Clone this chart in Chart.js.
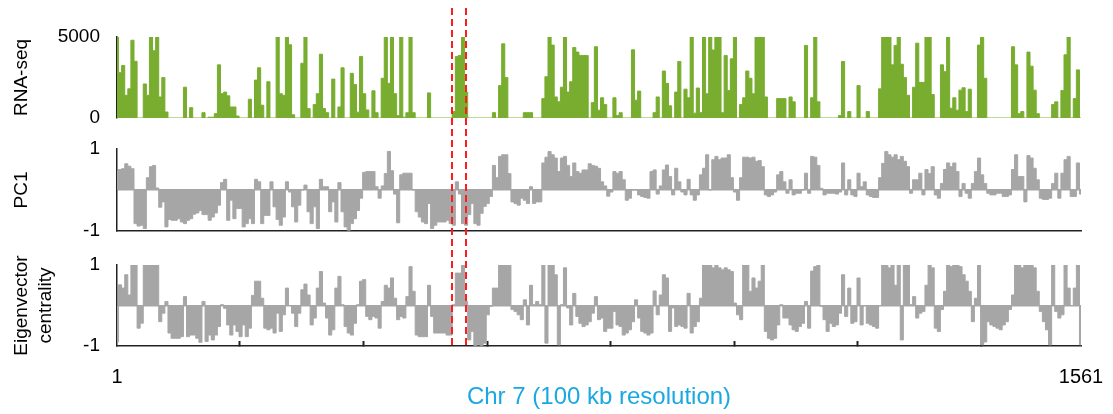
<!DOCTYPE html>
<html>
<head>
<meta charset="utf-8">
<script src="https://cdn.jsdelivr.net/npm/chart.js@4.4.1/dist/chart.umd.min.js"></script>
<style>
  body { margin: 0; background: #fff; }
  #wrap { position: relative; width: 1113px; height: 414px; }
  .panel { position: absolute; left: 0; width: 1113px; }
</style>
</head>
<body>
<div id="wrap">
  <div class="panel" style="top:0;height:130px"><canvas id="rna"></canvas></div>
  <div class="panel" style="top:130px;height:115px"><canvas id="pc1"></canvas></div>
  <div class="panel" style="top:245px;height:169px"><canvas id="eig"></canvas></div>
</div>
<script>
// one value per 5 bins (100 kb bins)
const binSize = 5;

const rnaSeq = [
  5000, 2800, 3240, 1400, 1800, 4800, 3500, 0, 0, 2100,
  1400, 5000, 4150, 5000, 1300, 2500, 370, 0, 0, 0,
  0, 0, 1900, 0, 640, 0, 0, 0, 330, 0,
  50, 50, 270, 3280, 1500, 1600, 1370, 680, 680, 120,
  0, 0, 0, 1160, 0, 2340, 3100, 790, 0, 2240,
  0, 0, 5000, 1500, 1400, 5000, 4520, 200, 0, 0,
  3380, 5000, 580, 0, 830, 1500, 3940, 580, 330, 0,
  2400, 0, 680, 3100, 0, 0, 2760, 2070, 360, 3800,
  1500, 500, 0, 1680, 330, 0, 2450, 5000, 2140, 5000,
  1500, 150, 5000, 50, 330, 5000, 330, 0, 0, 0,
  0, 1550, 0, 0, 0, 0, 0, 0, 0, 400,
  3800, 3860, 5000, 1600, 0, 0, 0, 0, 0, 0,
  0, 0, 330, 0, 2000, 4580, 2500, 0, 0, 0,
  0, 0, 330, 330, 330, 0, 0, 0, 1200, 2550,
  5000, 4500, 1300, 1000, 1900, 5000, 1600, 2240, 4350, 4070,
  3860, 3860, 3860, 0, 950, 4400, 480, 1250, 830, 0,
  0, 1250, 150, 330, 0, 0, 0, 4210, 1100, 1660,
  0, 0, 0, 0, 330, 1300, 0, 2900, 2140, 750,
  0, 1600, 3490, 0, 1780, 1250, 5000, 300, 1850, 330,
  5000, 1500, 5000, 4200, 5000, 5000, 330, 3860, 1700, 3650,
  5000, 0, 830, 1250, 2900, 2450, 1500, 5000, 5000, 5000,
  1300, 0, 0, 0, 1200, 1200, 1200, 0, 1300, 1000,
  0, 0, 0, 4480, 0, 1250, 5000, 1000, 0, 0,
  0, 0, 0, 0, 150, 3490, 0, 400, 0, 0,
  2000, 0, 0, 400, 0, 0, 0, 1800, 5000, 5000,
  5000, 3280, 4480, 5000, 3320, 2500, 1400, 0, 1900, 4620,
  2200, 2200, 5000, 5000, 1450, 0, 0, 3280, 2860, 5000,
  600, 1250, 480, 1720, 1870, 400, 1780, 0, 0, 4500,
  5000, 2450, 0, 0, 0, 0, 0, 0, 0, 0,
  4400, 3280, 270, 400, 0, 4070, 3200, 1720, 270, 0,
  0, 0, 0, 830, 1000, 0, 1700, 3900, 5000, 0,
  1200, 2970, 0
];

const pc1 = [
  0.45, 0.5, 0.52, 0.64, 0.58, 0.52, -0.82, -0.88, -0.86, -0.94,
  0.3, 0.57, 0.6, 0.05, -0.42, -0.29, -0.9, -0.72, -0.74, -0.74,
  -0.7, -0.78, -0.82, -0.74, -0.7, -0.59, -0.56, -0.5, -0.6, -0.6,
  -0.74, -0.66, -0.56, -0.37, 0.18, 0.26, -0.74, -0.25, -0.7, -0.45,
  -0.45, -0.9, -0.82, -0.7, -0.82, 0.26, 0.2, -0.82, -0.62, -0.62,
  0.2, -0.41, -0.72, -0.86, -0.66, 0.2, -0.05, -0.41, -0.78, -0.37,
  0, 0.12, -0.53, -0.82, -0.41, -0.94, 0.26, 0.08, 0.08, -0.53,
  -0.29, -0.78, 0.18, -0.53, -0.9, -0.98, -0.82, -0.7, -0.5, -0.2,
  0.43, 0.45, 0.45, 0.45, 0.08, -0.2, 0.1, 0.4, 0.94, 0.47,
  -0.1, -0.8, 0.37, 0.41, 0.41, 0.41, 0, -0.53, -0.66, -0.78,
  -0.82, -0.33, -0.94, -0.86, -0.78, -0.78, -0.78, -0.74, -0.82, -0.86,
  0.2, -0.1, -0.82, -0.86, -0.6, -0.33, -0.82, -0.86, -0.57, -0.4,
  -0.33, -0.16, 0.6, 0.3, 0.82, 0.86, 0.86, 0.4, -0.29, -0.33,
  -0.37, -0.2, -0.25, -0.33, 0.08, -0.33, -0.29, -0.29, 0.66, 0.8,
  0.94, 0.86, 0.78, 0.45, 0.78, 0.82, 0.6, 0.33, 0.66, 0.45,
  0.41, 0.49, 0.49, 0.64, 0.6, 0.58, 0.53, 0.2, 0.1, -0.15,
  -0.05, 0.45, 0.41, 0.45, 0.25, -0.25, -0.2, 0, 0, -0.12,
  -0.16, -0.18, -0.2, 0.45, 0.49, -0.1, 0.1, 0.49, 0.61, 0.33,
  -0.12, 0.53, 0.2, -0.05, -0.12, 0.26, -0.12, -0.25, -0.12, 0.37,
  0.53, 0.86, 0, 0.74, 0.82, 0.74, 0.78, 0.78, 0.86, 0.3,
  -0.05, -0.25, 0.3, 0.8, 0.8, 0.78, 0.8, 0.7, 0.72, 0.57,
  -0.12, -0.16, -0.12, -0.05, 0.37, 0.45, 0.2, -0.08, 0.25, -0.12,
  -0.08, -0.08, 0, 0.41, -0.08, 0.82, 0.8, 0.6, 0.04, -0.12,
  -0.08, -0.08, -0.08, -0.1, -0.05, 0.66, -0.12, 0.25, -0.12, -0.16,
  0.41, 0.08, 0.2, -0.12, -0.16, -0.18, -0.18, 0.3, 0.65, 0.94,
  0.86, 0.8, 0.86, 0.74, 0.82, 0.7, 0.57, -0.08, 0.25, 0.25,
  0.41, -0.12, 0.5, 0.4, 0.57, -0.12, -0.2, 0.16, 0.5, 0.66,
  0.57, 0.66, 0.45, -0.16, 0.16, -0.08, -0.2, 0.16, 0.45, 0.78,
  0.37, 0.16, -0.08, -0.12, -0.12, -0.08, -0.08, -0.16, -0.16, -0.12,
  0.5, 0.86, 0.33, 0.33, -0.29, 0.84, 0.78, 0.53, 0.25, -0.2,
  -0.23, -0.23, -0.2, 0.16, 0.41, -0.2, 0.41, 0.74, 0.82, -0.16,
  -0.16, 0.66, -0.1
];

const eigen = [
  -0.9, 0.51, 0.43, 0.76, 0.26, 1, 1, -0.56, -0.44, 1,
  1, 1, 1, 1, -0.4, -0.19, 0.1, -0.68, -0.81, -0.81,
  -0.81, -0.77, 0.22, -0.77, -0.73, -0.73, -0.81, -0.91, 0.1, -0.89,
  -0.73, -0.85, -0.73, -0.52, 0.02, -0.07, -0.48, -0.73, -0.48, -0.64,
  -0.77, -0.48, -0.77, -0.56, 0.25, 0.6, 0.6, 0.18, -0.56, -0.6,
  -0.56, -0.68, -0.19, -0.64, -0.23, 0.43, 0, -0.19, -0.52, -0.19,
  0.39, 0.53, 0.26, -0.48, -0.31, 0.43, 0.84, 0.06, -0.31, -0.73,
  -0.6, 0.43, 0.72, 0.02, -0.52, -0.68, -0.73, -0.44, 0.02, 0.6,
  0.64, -0.27, -0.35, -0.27, -0.31, -0.56, 0.1, 0.5, 0.43, 0.68,
  0.18, -0.35, -0.27, -0.31, 0.22, 0.96, 0.35, -0.73, -0.77, -0.77,
  -0.77, 0.5, -0.27, -0.68, -0.68, -0.68, -0.68, -0.73, -0.73, 0.02,
  0.8, 0.8, 1, 0.1, -0.85, -0.64, -0.99, -0.97, -0.99, -0.93,
  -0.23, -0.02, 0.43, 0.43, 1, 1, 1, 1, -0.1, -0.15,
  -0.23, -0.35, 0.14, -0.48, 0.5, 0.02, 0.1, 0.02, 1, -0.93,
  1, 1, 0.76, -0.97, 0.02, 0.93, -0.06, -0.48, 0.3, -0.27,
  -0.44, -0.52, -0.48, -0.4, -0.19, 0.22, -0.35, -0.31, -0.64, -0.56,
  -0.56, -0.15, -0.48, -0.52, -0.73, -0.68, -0.6, -0.4, 0.14, -0.31,
  -0.64, -0.68, -0.73, -0.68, 0.36, -0.23, 0.26, 0.76, 0.68, -0.64,
  -0.06, -0.52, -0.48, -0.52, -0.56, 0.3, -0.68, -0.52, -0.4, 0.18,
  1, 1, 1, 0.93, 1, 0.93, 0.88, 0.93, 0.88, 0.84,
  0.06, -0.23, -0.35, 1, 1, 0.35, 0.68, 0.43, 0.6, 1,
  -0.64, -0.81, -0.85, -0.81, -0.48, 0.02, -0.31, -0.31, -0.48, -0.6,
  -0.64, -0.52, -0.44, 0.1, -0.56, 0.85, 0.96, 1, -0.02, -0.35,
  -0.64, -0.44, -0.52, -0.48, -0.19, 0.76, -0.27, 0.43, -0.44, -0.4,
  0.68, -0.48, 0, -0.44, -0.48, -0.52, -0.56, 0, 1, 1,
  0.93, 1, 0.5, 1, -0.85, 1, 1, 0.02, 0.22, -0.31,
  -0.19, -0.15, 0.5, 1, 0.93, -0.56, -0.64, -0.1, 0.35, 1,
  0.96, 1, 1, 0.96, 0.76, 0.6, 0.35, -0.4, 0.18, 1,
  -0.97, -0.9, -0.4, -0.48, -0.52, -0.56, -0.6, -0.48, -0.4, -0.1,
  0.26, 1, 1, 0.93, 1, 1, 1, 0.93, 0.35, -0.15,
  -0.4, -0.6, -0.97, 1, -0.15, -0.31, -0.23, 1, 0.43, 0,
  0.43, 1, -0.97
];

const rnaTicks = [0, 5000];
const unitTicks = [-1, 0, 1];
const xTicks = [1, 200, 400, 600, 800, 1000, 1200, 1400, 1561];
const xLabels = [1, 1561];
const markers = [543, 566];   // dashed red lines (bin index)

const positions = rnaSeq.map((_, i) => 1 + i * binSize);

const green = '#78ad2f';
const grey = '#a6a6a6';
const axisColor = '#222';

Chart.defaults.font.family = "'Liberation Sans', Arial, sans-serif";
Chart.defaults.color = '#000';

// red dashed marker lines, drawn over the data
const markerLines = {
  id: 'markerLines',
  afterDatasetsDraw(chart, args, opts) {
    const ctx = chart.ctx;
    const xs = chart.scales.x;
    ctx.save();
    ctx.strokeStyle = '#ff1c1c';
    ctx.lineWidth = 2;
    ctx.setLineDash([7, 4]);
    ctx.lineDashOffset = opts.phase || 0;
    markers.forEach(m => {
      const px = Math.round(xs.getPixelForValue(m));
      ctx.beginPath();
      ctx.moveTo(px, opts.top || 0);
      ctx.lineTo(px, opts.bottom === 'area' ? chart.chartArea.bottom : chart.height);
      ctx.stroke();
    });
    ctx.restore();
  }
};

function series(values, color) {
  return {
    data: values,
    borderColor: color,
    backgroundColor: color,
    borderWidth: 1,
    fill: 'origin',
    pointRadius: 0,
    stepped: 'middle'
  };
}

function yScale(min, max, ticks, title) {
  return {
    min, max,
    afterFit: s => { s.width = 117; },
    afterBuildTicks: s => { s.ticks = ticks.map(v => ({ value: v })); },
    grid: {
      // invisible tick marks keep the labels 17px off the axis
      tickLength: 17,
      tickColor: 'transparent',
      lineWidth: 1.5,
      color: c => (c.tick && c.tick.value === 0 && min < 0) ? grey : 'transparent'
    },
    border: { display: true, color: axisColor, width: 1.5 },
    ticks: {
      padding: 0,
      font: { size: 19 },
      callback: v => (v === 0 && min < 0) ? '' : String(v)
    },
    title: {
      display: true,
      text: title,
      font: { size: 19, lineHeight: 1.26 },
      padding: { top: 10 }
    }
  };
}

const common = {
  responsive: true,
  maintainAspectRatio: false,
  animation: false,
  events: [],
  plugins: { legend: { display: false }, tooltip: { enabled: false } }
};

new Chart(document.getElementById('rna'), {
  type: 'line',
  data: { labels: positions, datasets: [series(rnaSeq, green)] },
  options: {
    ...common,
    layout: { padding: { top: 37, bottom: 12, left: 0, right: 32 } },
    plugins: { ...common.plugins, markerLines: { top: 8, phase: 0 } },
    scales: {
      x: { type: 'linear', min: 1, max: 1561, display: false },
      y: yScale(0, 5000, rnaTicks, 'RNA-seq')
    }
  },
  plugins: [markerLines]
});

new Chart(document.getElementById('pc1'), {
  type: 'line',
  data: { labels: positions, datasets: [series(pc1, grey)] },
  options: {
    ...common,
    layout: { padding: { top: 19, bottom: 14, left: 0, right: 32 } },
    plugins: { ...common.plugins, markerLines: { phase: (130 - 8) % 11 } },
    scales: {
      x: {
        type: 'linear', min: 1, max: 1561,
        afterFit: s => { s.height = 0; },
        ticks: { display: false },
        grid: { display: false },
        border: { display: true, color: axisColor, width: 1.5 }
      },
      y: yScale(-1, 1, unitTicks, 'PC1')
    }
  },
  plugins: [markerLines]
});

new Chart(document.getElementById('eig'), {
  type: 'line',
  data: { labels: positions, datasets: [series(eigen, grey)] },
  options: {
    ...common,
    layout: { padding: { top: 20, bottom: 0, left: 0, right: 32 } },
    plugins: { ...common.plugins, markerLines: { phase: (245 - 8) % 11, bottom: 'area' } },
    scales: {
      x: {
        type: 'linear', min: 1, max: 1561,
        afterBuildTicks: s => { s.ticks = xTicks.map(v => ({ value: v })); },
        afterFit: s => { s.height = 68; },
        grid: {
          drawOnChartArea: false,
          tickLength: -5,
          tickWidth: 2,
          tickColor: c => xLabels.includes(c.tick && c.tick.value) ? 'transparent' : axisColor
        },
        border: { display: true, color: axisColor, width: 1.5 },
        ticks: {
          padding: 8,
          autoSkip: false,
          maxRotation: 0,
          // tall line box pushes the labels down without widening the side padding
          font: { size: 20, lineHeight: 2.8 },
          callback: v => xLabels.includes(v) ? String(v) : ''
        },
        title: {
          display: true,
          text: 'Chr 7 (100 kb resolution)',
          color: '#1aa8e2',
          font: { size: 24 },
          padding: { bottom: 2 }
        }
      },
      y: yScale(-1, 1, unitTicks, ['Eigenvector', 'centrality'])
    }
  },
  plugins: [markerLines]
});
</script>
</body>
</html>
